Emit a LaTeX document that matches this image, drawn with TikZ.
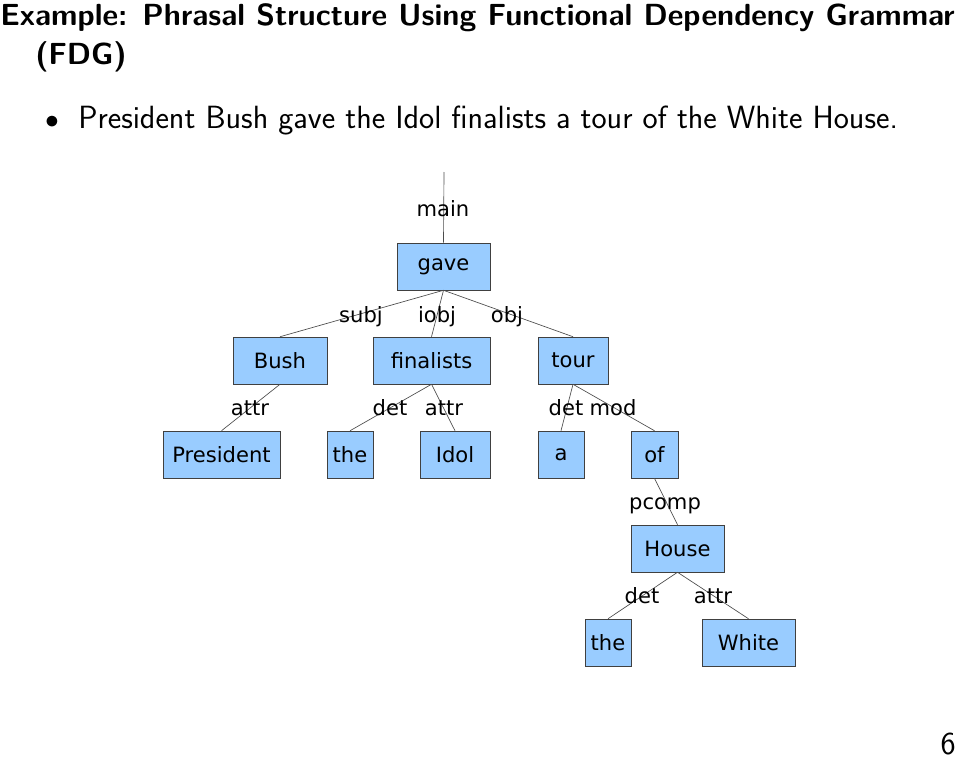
\documentclass[tikz,border=0pt]{standalone}
\usepackage{fontspec}
\newfontfamily\treefont{DejaVu Sans}
\begin{document}
\begin{tikzpicture}[x=0.75pt,y=-0.75pt,
  box/.style={draw=black!75,fill={rgb,255:red,153;green,204;blue,255},minimum height=35.25pt,inner sep=0pt,font=\treefont\fontsize{15.8}{17}\selectfont},
  edge/.style={draw=black!70,line width=0.5pt},
  lab/.style={font=\treefont\fontsize{15.8}{17}\selectfont,inner sep=0pt,anchor=base}]
\useasboundingbox (0,0) rectangle (960,760);
\node[anchor=base west,inner sep=0pt,font=\sffamily\bfseries\fontsize{22.9}{26}\selectfont] (t1) at (0,25) {Example: Phrasal Structure Using Functional Dependency Grammar};
\node[anchor=base west,inner sep=0pt,font=\sffamily\bfseries\fontsize{22.9}{26}\selectfont] (t2) at (35,64) {(FDG)};
\node[anchor=base,inner sep=0pt,font=\fontsize{22}{26}\selectfont] (bl) at (52,128) {$\bullet$};
\node[anchor=base west,inner sep=0pt,font=\sffamily\fontsize{24.1}{28}\selectfont] (s) at (78,128) {President Bush gave the Idol finalists a tour of the White House.};
\node[anchor=base east,inner sep=0pt,font=\sffamily\fontsize{24}{28}\selectfont] (pg) at (956,754) {6};

\newcommand{\bx}[6]{\node[box,minimum width={(#3-#2)*0.75pt}] (#1) at ({(#2+#3)/2},{(#4+#5)/2}) {#6};}
\bx{gave}{397}{490}{243}{290}{gave}
\bx{bush}{233}{327}{337}{384}{Bush}
\bx{fin}{373}{490}{337}{384}{finalists}
\bx{tour}{538}{608}{337}{384}{tour}
\bx{pres}{163}{280}{431}{478}{President}
\bx{the}{327}{373}{431}{478}{the}
\bx{idol}{420}{490}{431}{478}{Idol}
\bx{a}{538}{584}{431}{478}{a}
\bx{of}{631}{678}{431}{478}{of}
\bx{house}{631}{724}{525}{572}{House}
\bx{theb}{585}{631}{619}{666}{the}
\bx{white}{702}{795}{619}{666}{White}

\coordinate (top) at (444,172);
\draw[edge] (top) -- (gave.north);
\foreach \p/\c in {gave/bush,gave/fin,gave/tour,bush/pres,fin/the,fin/idol,tour/a,tour/of,of/house,house/theb,house/white}
  \draw[edge] (\p.south) -- (\c.north);

\node[lab] (l1) at (443,216) {main};
\node[lab] (l2) at (361,322) {subj};
\node[lab] (l3) at (437,322) {iobj};
\node[lab] (l4) at (507,322) {obj};
\node[lab] (l5) at (250,415) {attr};
\node[lab] (l6) at (390,415) {det};
\node[lab] (l7) at (444,415) {attr};
\node[lab] (l8) at (566,415) {det};
\node[lab] (l9) at (613,415) {mod};
\node[lab] (l10) at (665,509) {pcomp};
\node[lab] (l11) at (642,603) {det};
\node[lab] (l12) at (713,603) {attr};
\end{tikzpicture}
\end{document}
